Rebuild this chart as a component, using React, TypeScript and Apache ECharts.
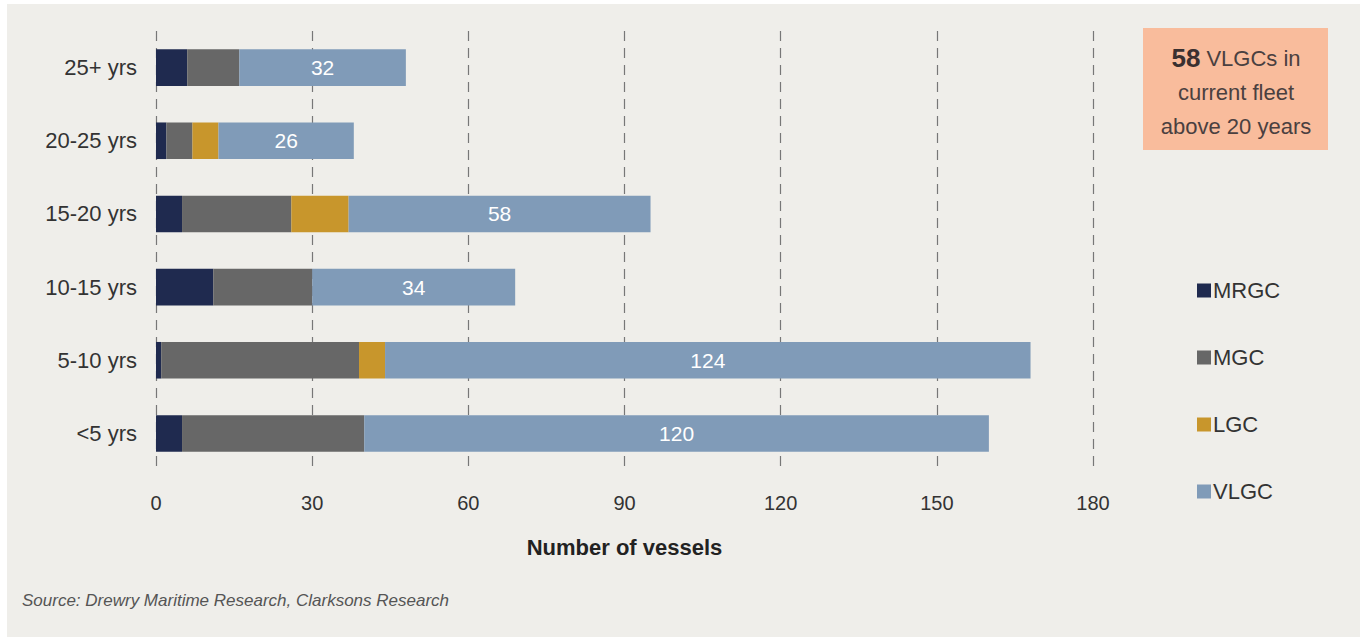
import React, { useEffect, useRef } from "react";
import * as echarts from "echarts";

const categories = ["25+ yrs", "20-25 yrs", "15-20 yrs", "10-15 yrs", "5-10 yrs", "<5 yrs"];
const mrgc = [6, 2, 5, 11, 1, 5];
const mgc = [10, 5, 21, 19, 38, 35];
const lgc = [0, 5, 11, 0, 5, 0];
const vlgc = [32, 26, 58, 39, 124, 120];
const vlgcLabels = ["32", "26", "58", "34", "124", "120"];

const colors = {
  MRGC: "#1f2a4f",
  MGC: "#676767",
  LGC: "#c8962c",
  VLGC: "#809bb8",
};

export default function App() {
  const ref = useRef<HTMLDivElement>(null);
  useEffect(() => {
    if (!ref.current) return;
    const chart = echarts.init(ref.current, null, { renderer: "svg" });
    const font = "Liberation Sans, Arial, Helvetica, sans-serif";
    const mk = (name: string, data: number[], withLabel = false) => ({
      name,
      type: "bar",
      stack: "total",
      barWidth: "50%",
      data,
      itemStyle: { color: (colors as any)[name] },
      label: withLabel
        ? {
            show: true,
            position: "inside",
            color: "#ffffff",
            fontSize: 21,
            fontFamily: font,
            formatter: (p: any) => vlgcLabels[p.dataIndex],
          }
        : { show: false },
    });
    chart.setOption({
      animation: false,
      backgroundColor: "#ffffff",
      textStyle: { fontFamily: font },
      grid: { left: 156, right: 267, top: 31, bottom: 637 - 470, containLabel: false },
      xAxis: {
        type: "value",
        min: 0,
        max: 180,
        interval: 30,
        name: "Number of vessels",
        nameLocation: "middle",
        nameGap: 66,
        nameTextStyle: { fontSize: 22, fontWeight: "bold", color: "#222", fontFamily: font },
        axisLine: { show: false },
        axisTick: { show: false },
        axisLabel: { fontSize: 20, color: "#333", margin: 23, fontFamily: font },
        splitLine: { show: true, lineStyle: { type: [10, 7], color: "#777", width: 1.2 } },
      },
      yAxis: {
        type: "category",
        inverse: true,
        data: categories,
        axisLine: { show: false },
        axisTick: { show: false },
        axisLabel: { fontSize: 22, color: "#333", margin: 19, fontFamily: font },
      },
      legend: {
        orient: "vertical",
        left: 1197,
        top: 279,
        padding: 0,
        itemWidth: 14,
        itemHeight: 14,
        itemGap: 44,
        icon: "rect",
        textStyle: { fontSize: 22, color: "#333", fontFamily: font, lineHeight: 23, padding: [0, 0, 0, -3] },
        data: ["MRGC", "MGC", "LGC", "VLGC"],
      },
      graphic: [
        {
          type: "rect",
          z: -10,
          silent: true,
          shape: { x: 7, y: 4, width: 1353, height: 633 },
          style: { fill: "#efeeea" },
        },
        {
          type: "rect",
          shape: { x: 1143, y: 28, width: 185, height: 122 },
          style: { fill: "#f9bc9c" },
        },
        {
          type: "text",
          x: 1236,
          y: 92,
          style: {
            text: "{b|58} VLGCs in\ncurrent fleet\nabove 20 years",
            align: "center",
            verticalAlign: "middle",
            fill: "#4a4040",
            fontSize: 22,
            fontFamily: font,
            lineHeight: 34,
            rich: {
              b: { fontSize: 26, fontWeight: "bold", fill: "#3a3030", fontFamily: font },
            },
          },
        },
        {
          type: "text",
          x: 22,
          y: 600,
          style: {
            text: "Source: Drewry Maritime Research, Clarksons Research",
            fill: "#555",
            fontSize: 17,
            fontStyle: "italic",
            fontFamily: font,
            verticalAlign: "middle",
          },
        },
      ],
      series: [mk("MRGC", mrgc), mk("MGC", mgc), mk("LGC", lgc), mk("VLGC", vlgc, true)],
    });
    return () => chart.dispose();
  }, []);
  return (
    <div
      ref={ref}
      style={{ position: "absolute", left: 0, top: 0, width: 1360, height: 637 }}
    />
  );
}
